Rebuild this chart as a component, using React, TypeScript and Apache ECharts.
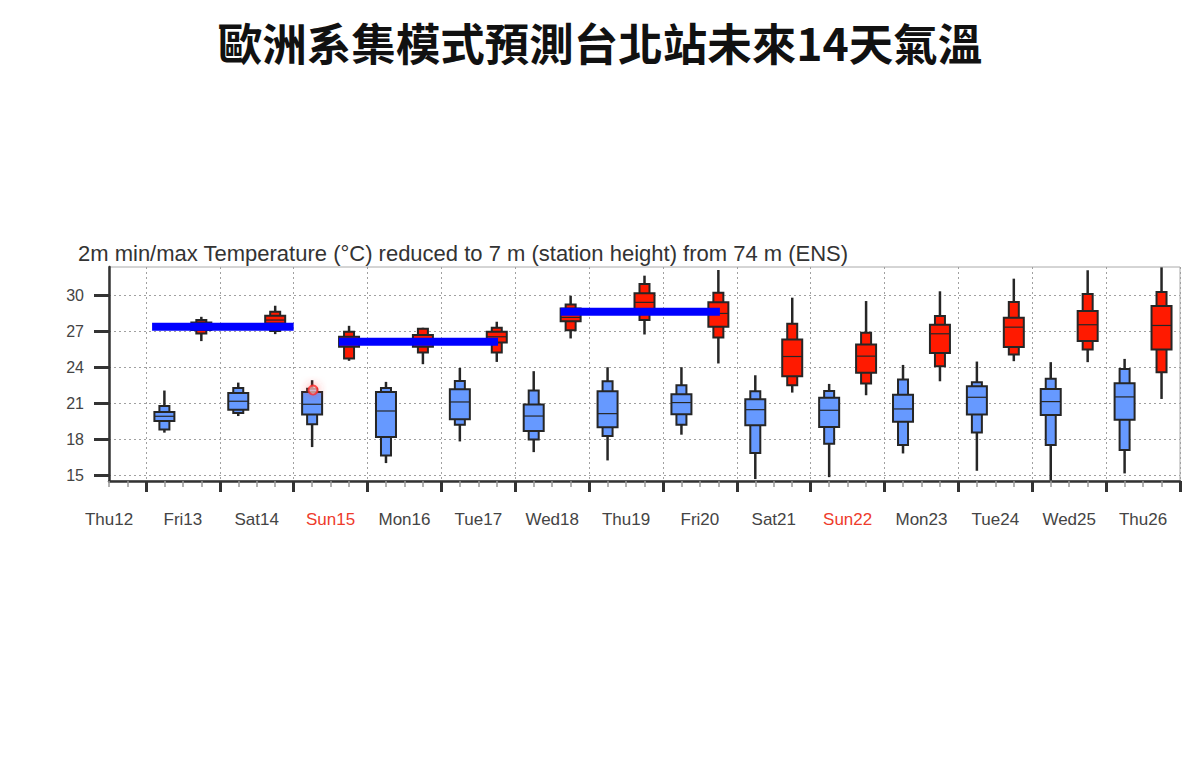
import React, { useEffect, useRef } from "react";
import * as echarts from "echarts";

// ---- axis labels ----
const dayLabels = ["Thu12", "Fri13", "Sat14", "Sun15", "Mon16", "Tue17", "Wed18", "Thu19", "Fri20", "Sat21", "Sun22", "Mon23", "Tue24", "Wed25", "Thu26"];
const yTickValues = [15, 18, 21, 24, 27, 30];

// ---- forecast days that carry boxes (index into dayLabels) ----
const boxDays = [1, 2, 3, 4, 5, 6, 7, 8, 9, 10, 11, 12, 13, 14];
const minTempHour = 6;   // min temperature box drawn at 06 h
const maxTempHour = 18;  // max temperature box drawn at 18 h

// ---- 2m min temperature ensemble statistics (°C) ----
const tminMin = [18.56, 19.94, 17.36, 16.03, 17.83, 16.94, 16.25, 18.39, 14.7, 14.86, 16.83, 15.39, 14.6, 15.17];
const tminP10 = [18.83, 20.19, 19.25, 16.67, 19.22, 18.0, 18.28, 19.22, 16.86, 17.64, 17.53, 18.58, 17.53, 17.11];
const tminP25 = [19.53, 20.47, 20.06, 18.19, 19.67, 18.69, 19.0, 20.08, 19.17, 19.03, 19.47, 20.06, 20.03, 19.64];
const tminMed = [19.92, 21.17, 20.92, 20.36, 21.11, 19.94, 20.14, 21.06, 20.47, 20.42, 20.53, 21.5, 21.14, 21.53];
const tminP75 = [20.28, 21.86, 21.94, 21.94, 22.17, 20.89, 22.0, 21.75, 21.33, 21.47, 21.72, 22.42, 22.19, 22.67];
const tminP90 = [20.78, 22.28, 22.2, 22.28, 22.86, 22.06, 22.83, 22.5, 22.0, 22.03, 22.97, 22.75, 23.03, 23.86];
const tminMax = [22.06, 22.72, 22.92, 22.78, 23.94, 23.67, 24.0, 24.0, 23.33, 22.61, 24.19, 24.47, 24.42, 24.69];

// ---- 2m max temperature ensemble statistics (°C) ----
const tmaxMin = [26.17, 26.75, 24.53, 24.25, 24.44, 26.39, 26.72, 24.31, 21.89, 21.67, 22.83, 24.5, 24.42, 21.36];
const tmaxP10 = [26.8, 27.0, 24.72, 25.22, 25.22, 27.08, 27.92, 26.47, 22.5, 22.64, 24.08, 25.06, 25.47, 23.58];
const tmaxP25 = [27.1, 27.64, 25.7, 25.7, 26.06, 27.83, 28.69, 27.36, 23.25, 23.53, 25.19, 25.67, 26.17, 25.47];
const tmaxMed = [27.4, 27.92, 26.1, 26.1, 26.53, 28.14, 29.39, 28.47, 24.89, 24.92, 26.78, 27.33, 27.53, 27.47];
const tmaxP75 = [27.72, 28.28, 26.53, 26.67, 26.94, 28.89, 30.14, 29.39, 26.31, 25.89, 27.53, 28.11, 28.67, 29.08];
const tmaxP90 = [27.92, 28.61, 26.94, 27.2, 27.28, 29.22, 30.92, 30.19, 27.61, 26.86, 28.25, 29.42, 30.08, 30.25];
const tmaxMax = [28.19, 29.11, 27.44, 27.28, 27.78, 29.94, 31.61, 32.08, 29.78, 29.5, 30.31, 31.36, 32.06, 32.3];

// ---- hand-drawn blue annotation bars: [startHour, endHour, level °C] ----
const barA = [26, 72, 27.36];
const barB = [86.7, 138.4, 26.11];
const barC = [158.7, 210.5, 28.61];

// ---- cursor highlight in the screenshot ----
const cursorPoint = [78.3, 22.1];

const X_MIN = 12;
const X_MAX = 360;
const Y_MIN = 14.54;
const Y_MAX = 32.33;

function buildBoxes(hour: number, lo: number[], p10: number[], p25: number[], med: number[], p75: number[], p90: number[], hi: number[]) {
  return boxDays.map((d, i) => [d * 24 + hour, lo[i], p10[i], p25[i], med[i], p75[i], p90[i], hi[i]]);
}

function makeRender(fill: string) {
  return (params: any, api: any) => {
    const x = api.value(0);
    const c = (v: number) => api.coord([x, v]);
    const cx = c(api.value(1))[0];
    const yLo = c(api.value(1))[1];
    const y10 = c(api.value(2))[1];
    const y25 = c(api.value(3))[1];
    const yMed = c(api.value(4))[1];
    const y75 = c(api.value(5))[1];
    const y90 = c(api.value(6))[1];
    const yHi = c(api.value(7))[1];
    const stroke = "#262626";
    return {
      type: "group",
      children: [
        { type: "line", shape: { x1: cx, y1: yHi, x2: cx, y2: yLo }, style: { stroke, lineWidth: 2.5 } },
        { type: "rect", shape: { x: cx - 5, y: y90, width: 10, height: y10 - y90 }, style: { fill, stroke, lineWidth: 2 } },
        { type: "rect", shape: { x: cx - 10, y: y75, width: 20, height: y25 - y75 }, style: { fill, stroke, lineWidth: 2 } },
        { type: "line", shape: { x1: cx - 10, y1: yMed, x2: cx + 10, y2: yMed }, style: { stroke, lineWidth: 1.2 } },
      ],
    };
  };
}

export default function App() {
  const ref = useRef<HTMLDivElement>(null);
  useEffect(() => {
    if (!ref.current) return;
    const chart = echarts.init(ref.current, null, { renderer: "svg" });
    const minBoxes = buildBoxes(minTempHour, tminMin, tminP10, tminP25, tminMed, tminP75, tminP90, tminMax);
    const maxBoxes = buildBoxes(maxTempHour, tmaxMin, tmaxP10, tmaxP25, tmaxMed, tmaxP75, tmaxP90, tmaxMax);
    const midnights = dayLabels.slice(1).map((_, i) => (i + 1) * 24).concat([X_MAX]);
    const labelFont = "'Liberation Sans', Arial, sans-serif";
    const bar = (b: number[]) => ({
      type: "line",
      xAxisIndex: 0,
      data: [[b[0], b[2]], [b[1], b[2]]],
      symbol: "none",
      lineStyle: { color: "#0000ff", width: 8, cap: "butt" },
      z: 10,
      silent: true,
    });
    chart.setOption({
      animation: false,
      backgroundColor: "#ffffff",
      title: [
        {
          text: "歐洲系集模式預測台北站未來14天氣溫",
          left: "center",
          top: 14,
          textStyle: { fontFamily: "'Noto Sans CJK TC', sans-serif", fontSize: 44.5, fontWeight: "bold", color: "#111111" },
        },
        {
          text: "2m min/max Temperature (°C) reduced to 7 m (station height) from 74 m (ENS)",
          left: 73,
          top: 237,
          textStyle: { fontFamily: labelFont, fontSize: 22, fontWeight: "normal", color: "#333333" },
        },
      ],
      grid: {
        left: 109,
        right: 20,
        top: 267,
        bottom: 303,
        show: true,
        borderColor: "#aaaaaa",
        borderWidth: 1,
        backgroundColor: "transparent",
      },
      xAxis: [
        {
          type: "value",
          min: X_MIN,
          max: X_MAX,
          interval: 6,
          position: "bottom",
          axisLine: { show: true, onZero: false, lineStyle: { color: "#333333", width: 2.5 } },
          axisTick: { show: true, length: 6, lineStyle: { color: "#999999", width: 1.5 } },
          axisLabel: { show: false },
          splitLine: { show: false },
        },
        {
          type: "value",
          min: X_MIN,
          max: X_MAX,
          minInterval: 24,
          maxInterval: 24,
          position: "bottom",
          axisLine: { show: false, onZero: false },
          axisTick: { show: true, customValues: midnights, length: 11, lineStyle: { color: "#333333", width: 3 } },
          axisLabel: { show: false },
          splitLine: { show: true, lineStyle: { color: "#a0a0a0", type: [2, 3], width: 1 } },
        },
        {
          type: "value",
          min: X_MIN,
          max: X_MAX,
          interval: 24,
          position: "bottom",
          axisLine: { show: false, onZero: false },
          axisTick: { show: false },
          axisLabel: {
            show: true,
            margin: 30,
            fontSize: 17,
            fontFamily: labelFont,
            color: "#444444",
            formatter: (v: number) => {
              const idx = Math.round((v - 12) / 24);
              if (Math.abs(v - (12 + idx * 24)) > 0.01 || idx < 0 || idx >= dayLabels.length) return "";
              const s = dayLabels[idx];
              return s.startsWith("Sun") ? "{sun|" + s + "}" : s;
            },
            rich: { sun: { color: "#ee3b2b", fontSize: 17, fontFamily: labelFont } },
          },
          splitLine: { show: false },
        },
      ],
      yAxis: {
        type: "value",
        min: Y_MIN,
        max: Y_MAX,
        minInterval: 3,
        maxInterval: 3,
        axisLine: { show: true, lineStyle: { color: "#333333", width: 2.5 } },
        axisTick: { show: true, customValues: yTickValues, length: 15, lineStyle: { color: "#333333", width: 3 } },
        axisLabel: { show: true, customValues: yTickValues, margin: 25, fontSize: 16, fontFamily: labelFont, color: "#444444" },
        splitLine: { show: true, lineStyle: { color: "#a0a0a0", type: [2, 3], width: 1 } },
      },
      series: [
        {
          type: "custom",
          name: "Tmin",
          xAxisIndex: 0,
          renderItem: makeRender("#6699ff"),
          encode: { x: 0, y: [1, 2, 3, 4, 5, 6, 7] },
          data: minBoxes,
          clip: true,
          z: 3,
        },
        {
          type: "custom",
          name: "Tmax",
          xAxisIndex: 0,
          renderItem: makeRender("#ff1a00"),
          encode: { x: 0, y: [1, 2, 3, 4, 5, 6, 7] },
          data: maxBoxes,
          clip: true,
          z: 3,
        },
        bar(barA),
        bar(barB),
        bar(barC),
        {
          type: "scatter",
          xAxisIndex: 0,
          data: [cursorPoint],
          symbol: "circle",
          symbolSize: 9,
          itemStyle: { color: "rgba(255,200,200,0.8)", borderColor: "#ff2a2a", borderWidth: 2, shadowBlur: 10, shadowColor: "rgba(255,60,60,0.7)" },
          z: 12,
          silent: true,
        },
      ],
    });
    return () => chart.dispose();
  }, []);
  return <div ref={ref} style={{ position: "fixed", left: 0, top: 0, width: 1200, height: 784 }} />;
}
